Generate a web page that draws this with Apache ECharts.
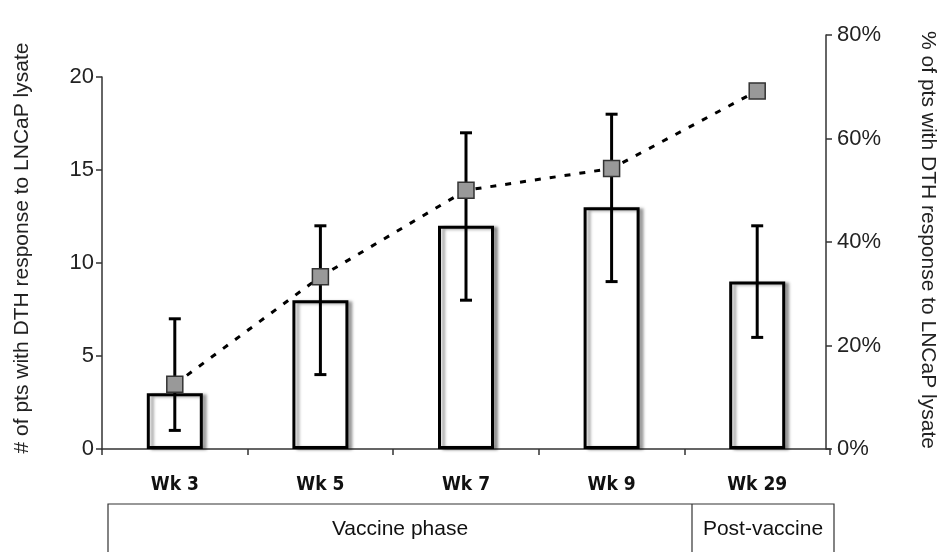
<!DOCTYPE html>
<html>
<head>
<meta charset="utf-8">
<script src="https://cdn.jsdelivr.net/npm/echarts@6/dist/echarts.min.js"></script>
<style>html,body{margin:0;padding:0;background:#fff;}#c{width:944px;height:552px;}</style>
</head>
<body>
<div id="c"></div>
<script>
// ---- data ----
var categories = ['Wk 3', 'Wk 5', 'Wk 7', 'Wk 9', 'Wk 29'];
var dthCounts = [3, 8, 12, 13, 9];
var errLow = [1, 4, 8, 9, 6];
var errHigh = [7, 12, 17, 18, 12];
var dthPercent = [12.5, 33.3, 50, 54.2, 69.2];
var leftTicks = [0, 5, 10, 15, 20];
var rightTicks = [0, 20, 40, 60, 80];
var phaseLabels = ['Vaccine phase', 'Post-vaccine'];
var leftTitle = '# of pts with DTH response to LNCaP lysate';
var rightTitle = '% of pts with DTH response to LNCaP lysate';

var errData = categories.map(function (c, i) { return [i, errLow[i], errHigh[i]]; });

var chart = echarts.init(document.getElementById('c'), null, { renderer: 'canvas' });
var FONT = 'Liberation Sans, Arial, sans-serif';
var axisColor = '#333';

var option = {
  animation: false,
  backgroundColor: '#fff',
  grid: [
    { left: 102, right: 114, top: 77, bottom: 103 },
    { left: 102, right: 114, top: 35, bottom: 103 }
  ],
  xAxis: [
    {
      type: 'category', gridIndex: 0, data: categories,
      axisLine: { lineStyle: { color: axisColor, width: 1.5 } },
      axisTick: { show: true, length: 6, lineStyle: { color: axisColor, width: 1.5 } },
      axisLabel: { margin: 27, fontFamily: 'Liberation Sans Narrow, DejaVu Sans Condensed, sans-serif', fontWeight: 'bold', fontSize: 19, color: '#111' }
    },
    {
      type: 'category', gridIndex: 1, data: categories, show: false
    }
  ],
  yAxis: [
    {
      type: 'value', gridIndex: 0, min: leftTicks[0], max: leftTicks[leftTicks.length - 1], interval: 5,
      axisLine: { show: true, lineStyle: { color: axisColor, width: 1.5 } },
      axisTick: { show: true, length: 6, lineStyle: { color: axisColor, width: 1.5 } },
      splitLine: { show: false },
      axisLabel: { margin: 8, fontFamily: FONT, fontSize: 22, color: '#222' }
    },
    {
      type: 'value', gridIndex: 1, position: 'right', offset: -4,
      min: rightTicks[0], max: rightTicks[rightTicks.length - 1], interval: 20,
      axisLine: { show: true, lineStyle: { color: axisColor, width: 1.5 } },
      axisTick: { show: true, length: 6, lineStyle: { color: axisColor, width: 1.5 } },
      splitLine: { show: false },
      axisLabel: { margin: 11, fontFamily: FONT, fontSize: 22, color: '#222', formatter: '{value}%' }
    }
  ],
  series: [
    {
      type: 'bar', xAxisIndex: 0, yAxisIndex: 0, data: dthCounts, barWidth: 56, z: 2,
      itemStyle: {
        color: '#fff', borderColor: '#000', borderWidth: 3,
        shadowColor: 'rgba(0,0,0,0.35)', shadowBlur: 3, shadowOffsetX: 4, shadowOffsetY: 1
      }
    },
    {
      type: 'custom', xAxisIndex: 0, yAxisIndex: 0, data: errData, z: 3,
      encode: { x: 0, y: [1, 2] },
      renderItem: function (params, api) {
        var x = api.value(0);
        var lo = api.coord([x, api.value(1)]);
        var hi = api.coord([x, api.value(2)]);
        var hw = 6;
        var st = { stroke: '#000', lineWidth: 3 };
        return {
          type: 'group',
          children: [
            { type: 'line', shape: { x1: lo[0], y1: lo[1], x2: hi[0], y2: hi[1] }, style: st },
            { type: 'line', shape: { x1: lo[0] - hw, y1: lo[1], x2: lo[0] + hw, y2: lo[1] }, style: st },
            { type: 'line', shape: { x1: hi[0] - hw, y1: hi[1], x2: hi[0] + hw, y2: hi[1] }, style: st }
          ]
        };
      }
    },
    {
      type: 'line', xAxisIndex: 1, yAxisIndex: 1, data: dthPercent, z: 5,
      symbol: 'rect', symbolSize: 16,
      lineStyle: { color: '#000', width: 3, type: [6, 9] },
      itemStyle: { color: '#999', borderColor: '#333', borderWidth: 1.5 }
    }
  ],
  graphic: [
    {
      type: 'text', x: 22, y: 248, rotation: Math.PI / 2,
      style: { text: leftTitle, font: '21px ' + FONT, fill: '#222', textAlign: 'center', textVerticalAlign: 'middle' }
    },
    {
      type: 'text', x: 928, y: 240, rotation: -Math.PI / 2,
      style: { text: rightTitle, font: '21px ' + FONT, fill: '#222', textAlign: 'center', textVerticalAlign: 'middle' }
    },
    {
      type: 'rect', shape: { x: 108, y: 504, width: 726, height: 60 },
      style: { fill: 'none', stroke: '#333', lineWidth: 1.2 }
    },
    {
      type: 'line', shape: { x1: 692, y1: 504, x2: 692, y2: 560 },
      style: { stroke: '#333', lineWidth: 1.2 }
    },
    {
      type: 'text', x: 400, y: 529,
      style: { text: phaseLabels[0], font: '21px ' + FONT, fill: '#111', textAlign: 'center', textVerticalAlign: 'middle' }
    },
    {
      type: 'text', x: 763, y: 529,
      style: { text: phaseLabels[1], font: '21px ' + FONT, fill: '#111', textAlign: 'center', textVerticalAlign: 'middle' }
    }
  ]
};
chart.setOption(option);
</script>
</body>
</html>
